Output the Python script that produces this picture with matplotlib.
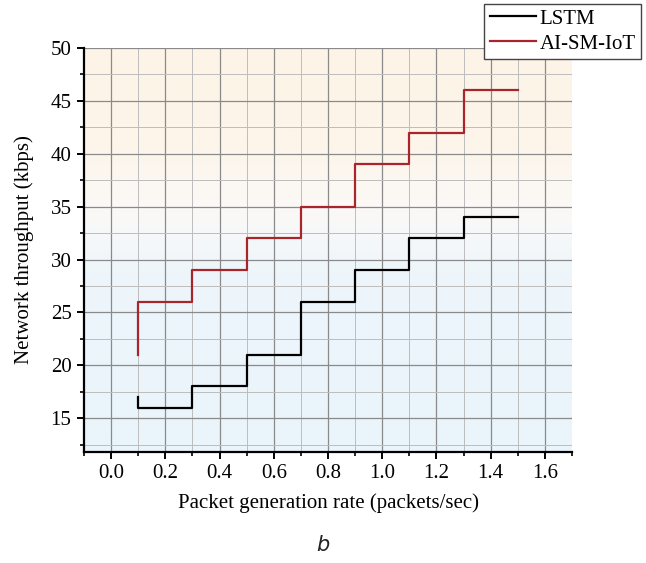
import matplotlib
matplotlib.use("Agg")
from matplotlib import pyplot as plt
from matplotlib.colors import LinearSegmentedColormap
from matplotlib.ticker import MultipleLocator
import numpy as np

# data
rate = [0.1, 0.3, 0.5, 0.7, 0.9, 1.1, 1.3, 1.5]
lstm = [17, 16, 18, 21, 26, 29, 32, 34]
ai_sm_iot = [21, 26, 29, 32, 35, 39, 42, 46]

plt.rcParams['font.family'] = ['Liberation Serif', 'DejaVu Serif']

fig = plt.figure(figsize=(6.46, 5.63), dpi=100)
ax = fig.add_axes([84/646, 1 - 452/563, (572-84)/646, (452-48)/563])

xlo, xhi = -0.1, 1.7
ylo, yhi = 11.8, 50

# background gradient: blue at bottom, peach at top
cmap = LinearSegmentedColormap.from_list(
    "bg", [(0, "#e9f4fb"), (0.45, "#eef6fb"), (0.6, "#fbf9f7"), (0.75, "#fdf5eb"), (1, "#fdf4e7")])
grad = np.linspace(0, 1, 256).reshape(-1, 1)
ax.imshow(grad, cmap=cmap, aspect="auto", origin="lower",
          extent=[xlo, xhi, ylo, yhi], zorder=0)

ax.step(rate, lstm, where="pre", color="black", lw=1.6, label="LSTM", zorder=3)
ax.step(rate, ai_sm_iot, where="pre", color="#a8262b", lw=1.6, label="AI-SM-IoT", zorder=3)

ax.set_xlim(xlo, xhi)
ax.set_ylim(ylo, yhi)
ax.xaxis.set_minor_locator(MultipleLocator(0.1))
ax.yaxis.set_minor_locator(MultipleLocator(2.5))
ax.set_yticks([15, 20, 25, 30, 35, 40, 45, 50])
ax.set_xticks(np.arange(0, 1.61, 0.2))
ax.set_xticklabels([f"{v:.1f}" for v in np.arange(0, 1.61, 0.2)])

ax.grid(which="major", color="#8a8a8a", lw=0.9, zorder=1)
ax.grid(which="minor", color="#bdbdbd", lw=0.7, zorder=1)
ax.set_axisbelow(True)

for s in ["top", "right"]:
    ax.spines[s].set_visible(False)
for s in ["left", "bottom"]:
    ax.spines[s].set_linewidth(1.6)
ax.tick_params(which="major", direction="out", length=5, width=1.4, labelsize=15, pad=4)
ax.tick_params(which="minor", direction="out", length=3, width=1.2)

ax.set_xlabel("Packet generation rate (packets/sec)", fontsize=15, labelpad=7)
ax.set_ylabel("Network throughput (kbps)", fontsize=15, labelpad=12)

fig.legend(loc="upper right", bbox_to_anchor=(641/646, 1 - 4/563), fontsize=15,
           frameon=True, fancybox=False, edgecolor="#444444", framealpha=1,
           handlelength=2.2, handletextpad=0.2, borderpad=0.25, labelspacing=0.25,
           borderaxespad=0)

fig.text(0.5, 1 - 545/563, "b", ha="center", va="center", fontsize=15,
         family="DejaVu Sans", style="italic", color="#222222")

fig.savefig("out.png", dpi=100)
